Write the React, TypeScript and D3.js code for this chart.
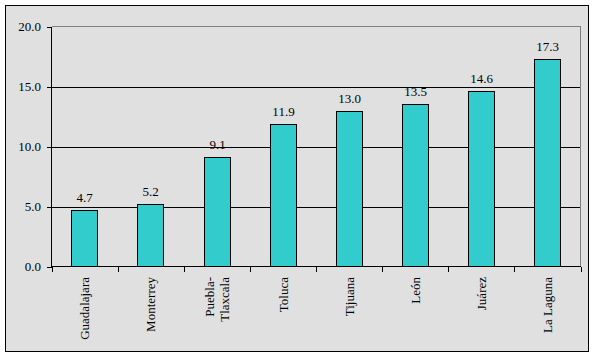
import React from "react";
import * as d3 from "d3";

const categories = ["Guadalajara", "Monterrey", "Puebla-\nTlaxcala", "Toluca", "Tijuana", "León", "Juárez", "La Laguna"];
const values = [4.7, 5.2, 9.1, 11.9, 13.0, 13.5, 14.6, 17.3];
const yTicks = [0, 5, 10, 15, 20];

const W = 595, H = 357;
const left = 51.5, right = 580.5, top = 26.5, bottom = 266.5;
const font = "'Liberation Serif', 'DejaVu Serif', serif";
const fs = 13;

export default function App() {
  const x = d3.scaleBand<string>().domain(categories).range([left, right]).paddingInner(0.6).paddingOuter(0.3);
  const y = d3.scaleLinear().domain([0, 20]).range([bottom, top]);
  const bounds = d3.range(categories.length + 1).map((i) => left + i * ((right - left) / categories.length));
  return (
    <svg width={W} height={H} style={{ position: "absolute", left: 0, top: 0 }} shapeRendering="crispEdges">
      <rect x={5.5} y={5.5} width={583} height={346} fill="#e0e0e0" stroke="#000" strokeWidth={1} />
      {yTicks.filter((t) => t > 0 && t < 20).map((t) => (
        <line key={t} x1={left} x2={right} y1={Math.round(y(t)) + 0.5} y2={Math.round(y(t)) + 0.5} stroke="#000" />
      ))}
      <line x1={left} x2={right} y1={top} y2={top} stroke="#808080" />
      <line x1={right} x2={right} y1={top} y2={bottom} stroke="#808080" />
      {categories.map((c, i) => {
        const y0 = Math.round(y(values[i])) + 0.5;
        const bx = Math.round(x(c)!) + 0.5;
        const bw = Math.round(x.bandwidth());
        return (
          <g key={c}>
            <rect x={bx} y={y0} width={bw} height={bottom - y0} fill="#33cccc" stroke="#000" />
            <text x={bx + bw / 2} y={y0 - 8.5} textAnchor="middle" fontFamily={font} fontSize={fs} fill="#000">
              {values[i].toFixed(1)}
            </text>
          </g>
        );
      })}
      <line x1={left} x2={left} y1={top} y2={bottom} stroke="#000" />
      <line x1={left} x2={right} y1={bottom} y2={bottom} stroke="#000" />
      {yTicks.map((t) => (
        <g key={t}>
          <line x1={left - 5} x2={left} y1={Math.round(y(t)) + 0.5} y2={Math.round(y(t)) + 0.5} stroke="#000" />
          <text x={41} y={y(t)} dy="0.35em" textAnchor="end" fontFamily={font} fontSize={fs} fill="#000">
            {t.toFixed(1)}
          </text>
        </g>
      ))}
      {bounds.map((bx, i) => (
        <line key={i} x1={Math.round(bx) + 0.5} x2={Math.round(bx) + 0.5} y1={bottom} y2={bottom + 5} stroke="#000" />
      ))}
      {categories.map((c) => {
        const lines = c.split("\n");
        const cx = x(c)! + x.bandwidth() / 2;
        return (
          <text key={c} transform={`translate(${cx},277) rotate(-90)`} textAnchor="end" fontFamily={font} fontSize={fs} fill="#000">
            {lines.map((l, j) => (
              <tspan key={j} x={0} dy={j === 0 ? `${0.35 - (lines.length - 1) * 0.6}em` : "1.2em"}>{l}</tspan>
            ))}
          </text>
        );
      })}
    </svg>
  );
}
